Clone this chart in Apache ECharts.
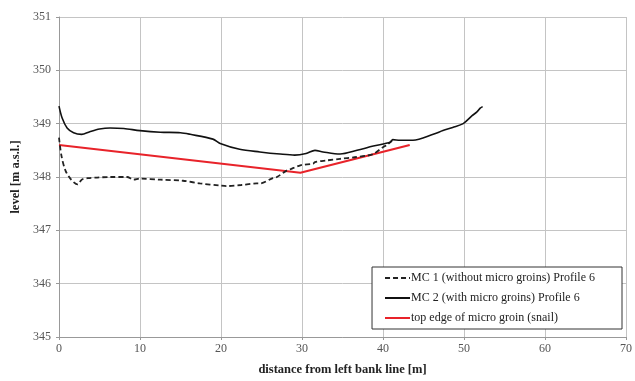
<!DOCTYPE html>
<html><head><meta charset="utf-8">
<script src="https://cdn.jsdelivr.net/npm/echarts@6/dist/echarts.min.js"></script>
<style>html,body{margin:0;padding:0;background:#fff}#c{width:635px;height:381px}</style>
</head><body><div id="c"></div>
<script>
var seriesNames = ['MC 1 (without micro groins) Profile 6','MC 2 (with micro groins) Profile 6','top edge of micro groin (snail)'];
var mc1X = [0,0.3,0.8,1.5,2.3,2.8,3.6,4.7,6.3,8.4,9.2,10,12.5,15.3,17.4,19.9,20.7,22.5,24.4,24.8,26.4,26.9,28.1,28.5,29.8,31.4,31.6,33,34.7,36.5,38,38.8,40,40.5,41.2];
var mc1Y = [348.74,348.4,348.12,347.95,347.86,347.95,347.98,347.99,348.0,348.0,347.95,347.97,347.95,347.93,347.88,347.84,347.83,347.85,347.88,347.88,347.98,348.0,348.12,348.14,348.22,348.25,348.28,348.31,348.34,348.37,348.4,348.43,348.56,348.6,348.7];
var mc2X = [0,0.4,1,1.8,2.8,3.8,5,6.3,8,10,12.5,15,16.2,19,19.9,22.3,24.8,27.3,29.1,30.5,31.6,32.6,34.7,36.8,38.8,40.9,41.2,42.1,43.7,46.2,47.4,48.6,49.9,51,51.6,52,52.3];
var mc2Y = [349.33,349.1,348.92,348.83,348.8,348.85,348.9,348.92,348.91,348.87,348.84,348.83,348.8,348.71,348.63,348.52,348.47,348.43,348.41,348.44,348.5,348.47,348.43,348.5,348.58,348.65,348.7,348.69,348.69,348.8,348.87,348.93,349.0,349.15,349.22,349.29,349.32];
var redX = [0,29.8,43.3];
var redY = [348.6,348.08,348.6];
var xTicks = [0,10,20,30,40,50,60,70];
var yTicks = [345,346,347,348,349,350,351];

function pairs(xs, ys){ return xs.map(function(x,i){ return [x, ys[i]]; }); }

var font = 'Liberation Serif';
var chart = echarts.init(document.getElementById('c'));
chart.setOption({
  animation: false,
  backgroundColor: '#fff',
  grid: {left: 59, right: 9, top: 17, bottom: 37, containLabel: false},
  xAxis: {
    type: 'value', min: xTicks[0], max: xTicks[xTicks.length-1], interval: 10,
    name: 'distance from left bank line [m]', nameLocation: 'middle', nameGap: 26,
    nameTextStyle: {fontFamily: font, fontWeight: 'bold', fontSize: 12.5, color: '#222'},
    axisLine: {show: true, lineStyle: {color: '#999'}},
    axisTick: {show: true, length: 3, lineStyle: {color: '#999'}},
    axisLabel: {fontFamily: font, fontSize: 12, color: '#555', margin: 6},
    splitLine: {show: true, lineStyle: {color: '#c4c4c4', width: 1}}
  },
  yAxis: {
    type: 'value', min: yTicks[0], max: yTicks[yTicks.length-1], interval: 1,
    name: 'level [m a.s.l.]', nameLocation: 'middle', nameGap: 36, nameRotate: 90,
    nameTextStyle: {fontFamily: font, fontWeight: 'bold', fontSize: 12.5, color: '#222'},
    axisLine: {show: true, lineStyle: {color: '#999'}},
    axisTick: {show: true, length: 3, lineStyle: {color: '#999'}},
    axisLabel: {fontFamily: font, fontSize: 12, color: '#555', margin: 8},
    splitLine: {show: true, lineStyle: {color: '#c4c4c4', width: 1}}
  },
  legend: {
    orient: 'vertical', right: 13, top: 267,
    padding: [5, 27, 5, 12],
    itemGap: 8, itemWidth: 25, itemHeight: 12,
    backgroundColor: '#fff',
    borderColor: '#333', borderWidth: 1, borderRadius: 0,
    itemStyle: {opacity: 0},
    textStyle: {fontFamily: font, fontSize: 12, color: '#222', padding: [0,0,0,-4]},
    data: seriesNames
  },
  series: [
    {name: seriesNames[0], type: 'line', data: pairs(mc1X, mc1Y), showSymbol: false, symbol: 'none', smooth: 0.3,
     lineStyle: {color: '#222', width: 1.8, type: [5, 3]}, itemStyle: {color: '#222'}, z: 3},
    {name: seriesNames[1], type: 'line', data: pairs(mc2X, mc2Y), showSymbol: false, symbol: 'none', smooth: 0.3,
     lineStyle: {color: '#111', width: 1.6}, itemStyle: {color: '#111'}, z: 4},
    {name: seriesNames[2], type: 'line', data: pairs(redX, redY), showSymbol: false, symbol: 'none',
     lineStyle: {color: '#e8232a', width: 2.2}, itemStyle: {color: '#e8232a'}, z: 2}
  ]
});
</script></body></html>
